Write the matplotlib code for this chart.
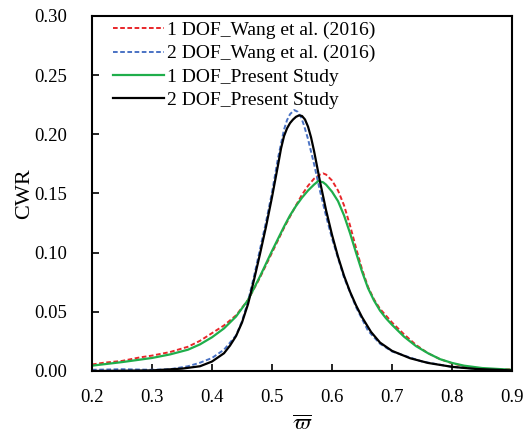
import matplotlib
matplotlib.use('Agg')
import matplotlib.pyplot as plt

plt.rcParams['font.family'] = ['Liberation Serif', 'DejaVu Serif']
plt.rcParams['mathtext.fontset'] = 'stix'

# 1 DOF - Wang et al. (2016)
w1_x = [0.20, 0.22, 0.25, 0.28, 0.30, 0.33, 0.36, 0.38, 0.40, 0.42, 0.44, 0.46,
        0.48, 0.50, 0.52, 0.54, 0.55, 0.56, 0.57, 0.58, 0.585, 0.59, 0.60, 0.61,
        0.62, 0.63, 0.64, 0.65, 0.66, 0.67, 0.68, 0.70, 0.72, 0.74, 0.76, 0.78,
        0.80, 0.82, 0.85, 0.87, 0.90]
w1_y = [0.0055, 0.0070, 0.0085, 0.0115, 0.0130, 0.0160, 0.0205, 0.0255, 0.0320,
        0.0385, 0.0470, 0.0600, 0.0790, 0.1000, 0.1210, 0.1400, 0.1490, 0.1565,
        0.1625, 0.1660, 0.1670, 0.1660, 0.1610, 0.1525, 0.1400, 0.1230, 0.1040,
        0.0860, 0.0710, 0.0605, 0.0525, 0.0410, 0.0310, 0.0220, 0.0150, 0.0100,
        0.0065, 0.0040, 0.0020, 0.0010, 0.0015]

# 2 DOF - Wang et al. (2016)
w2_x = [0.20, 0.25, 0.30, 0.33, 0.36, 0.38, 0.40, 0.42, 0.44, 0.45, 0.46, 0.47,
        0.48, 0.49, 0.50, 0.51, 0.52, 0.525, 0.53, 0.537, 0.543, 0.548, 0.553,
        0.56, 0.57, 0.58, 0.59, 0.60, 0.62, 0.64, 0.66, 0.68, 0.70, 0.75, 0.80,
        0.85, 0.90]
w2_y = [0.0010, 0.0015, 0.0010, 0.0015, 0.0040, 0.0070, 0.0110, 0.0180, 0.0300,
        0.0420, 0.0590, 0.0800, 0.1030, 0.1260, 0.1510, 0.1800, 0.2040, 0.2120,
        0.2170, 0.2205, 0.2190, 0.2150, 0.2080, 0.1960, 0.1750, 0.1520, 0.1310,
        0.1120, 0.0790, 0.0540, 0.0340, 0.0230, 0.0165, 0.0080, 0.0035, 0.0015,
        0.0008]

# 1 DOF - present study
p1_x = [0.20, 0.25, 0.30, 0.33, 0.36, 0.38, 0.40, 0.42, 0.44, 0.46, 0.48, 0.50,
        0.52, 0.53, 0.54, 0.55, 0.56, 0.57, 0.577, 0.585, 0.59, 0.60, 0.61, 0.62,
        0.63, 0.64, 0.65, 0.66, 0.67, 0.68, 0.69, 0.70, 0.72, 0.74, 0.76, 0.78,
        0.80, 0.82, 0.85, 0.90]
p1_y = [0.0045, 0.0075, 0.0110, 0.0140, 0.0180, 0.0225, 0.0285, 0.0360, 0.0460,
        0.0600, 0.0800, 0.1015, 0.1220, 0.1315, 0.1395, 0.1465, 0.1525, 0.1575,
        0.1605, 0.1595, 0.1575, 0.1515, 0.1435, 0.1315, 0.1165, 0.1000, 0.0840,
        0.0700, 0.0595, 0.0510, 0.0445, 0.0390, 0.0290, 0.0210, 0.0150, 0.0100,
        0.0068, 0.0045, 0.0025, 0.0010]

# 2 DOF - present study
p2_x = [0.20, 0.25, 0.30, 0.35, 0.38, 0.40, 0.42, 0.43, 0.44, 0.45, 0.46, 0.47,
        0.48, 0.49, 0.50, 0.51, 0.515, 0.52, 0.525, 0.53, 0.535, 0.54, 0.545,
        0.55, 0.555, 0.56, 0.565, 0.57, 0.575, 0.58, 0.59, 0.60, 0.61, 0.62,
        0.63, 0.64, 0.65, 0.665, 0.68, 0.70, 0.73, 0.76, 0.80, 0.84, 0.90]
p2_y = [0.0000, 0.0002, 0.0005, 0.0020, 0.0040, 0.0080, 0.0150, 0.0215, 0.0295,
        0.0410, 0.0565, 0.0770, 0.0990, 0.1220, 0.1470, 0.1740, 0.1880, 0.1985,
        0.2050, 0.2095, 0.2125, 0.2148, 0.2160, 0.2155, 0.2125, 0.2065, 0.1975,
        0.1860, 0.1730, 0.1600, 0.1360, 0.1150, 0.0965, 0.0805, 0.0670, 0.0555,
        0.0455, 0.0330, 0.0240, 0.0170, 0.0108, 0.0068, 0.0035, 0.0017, 0.0005]

fig = plt.figure(figsize=(5.27, 4.38), dpi=100)
ax = fig.add_axes([0.1746, 0.153, 0.797, 0.8105])

ax.plot(w1_x, w1_y, color='#e8262a', lw=1.4, dashes=(2.4, 1.3),
        label='1 DOF_Wang et al. (2016)')
ax.plot(w2_x, w2_y, color='#4a72c4', lw=1.4, dashes=(2.4, 1.3),
        label='2 DOF_Wang et al. (2016)')
ax.plot(p1_x, p1_y, color='#1fae4b', lw=1.6, label='1 DOF_Present Study')
ax.plot(p2_x, p2_y, color='black', lw=1.6, label='2 DOF_Present Study')

ax.set_xlim(0.2, 0.9)
ax.set_ylim(0, 0.3)
ax.set_xticks([0.2, 0.3, 0.4, 0.5, 0.6, 0.7, 0.8, 0.9])
ax.set_yticks([0.00, 0.05, 0.10, 0.15, 0.20, 0.25, 0.30])
ax.set_xticklabels(['0.2', '0.3', '0.4', '0.5', '0.6', '0.7', '0.8', '0.9'])
ax.set_yticklabels(['0.00', '0.05', '0.10', '0.15', '0.20', '0.25', '0.30'])
ax.tick_params(direction='in', length=5, width=1.2, labelsize=13.5,
               top=False, right=False)
ax.tick_params(axis='y', pad=18)
ax.tick_params(axis='x', pad=13)
for s in ax.spines.values():
    s.set_linewidth(1.5)

ax.set_ylabel('CWR', fontsize=16, labelpad=0)
ax.set_xlabel(r'$\overline{\varpi}$', fontsize=16, labelpad=7)

ax.legend(loc='upper left', bbox_to_anchor=(0.05, 0.984), frameon=False,
          fontsize=14, borderpad=0, borderaxespad=0, handlelength=2.6,
          handletextpad=0.2, labelspacing=0.28)

fig.savefig('out.png', dpi=100)
